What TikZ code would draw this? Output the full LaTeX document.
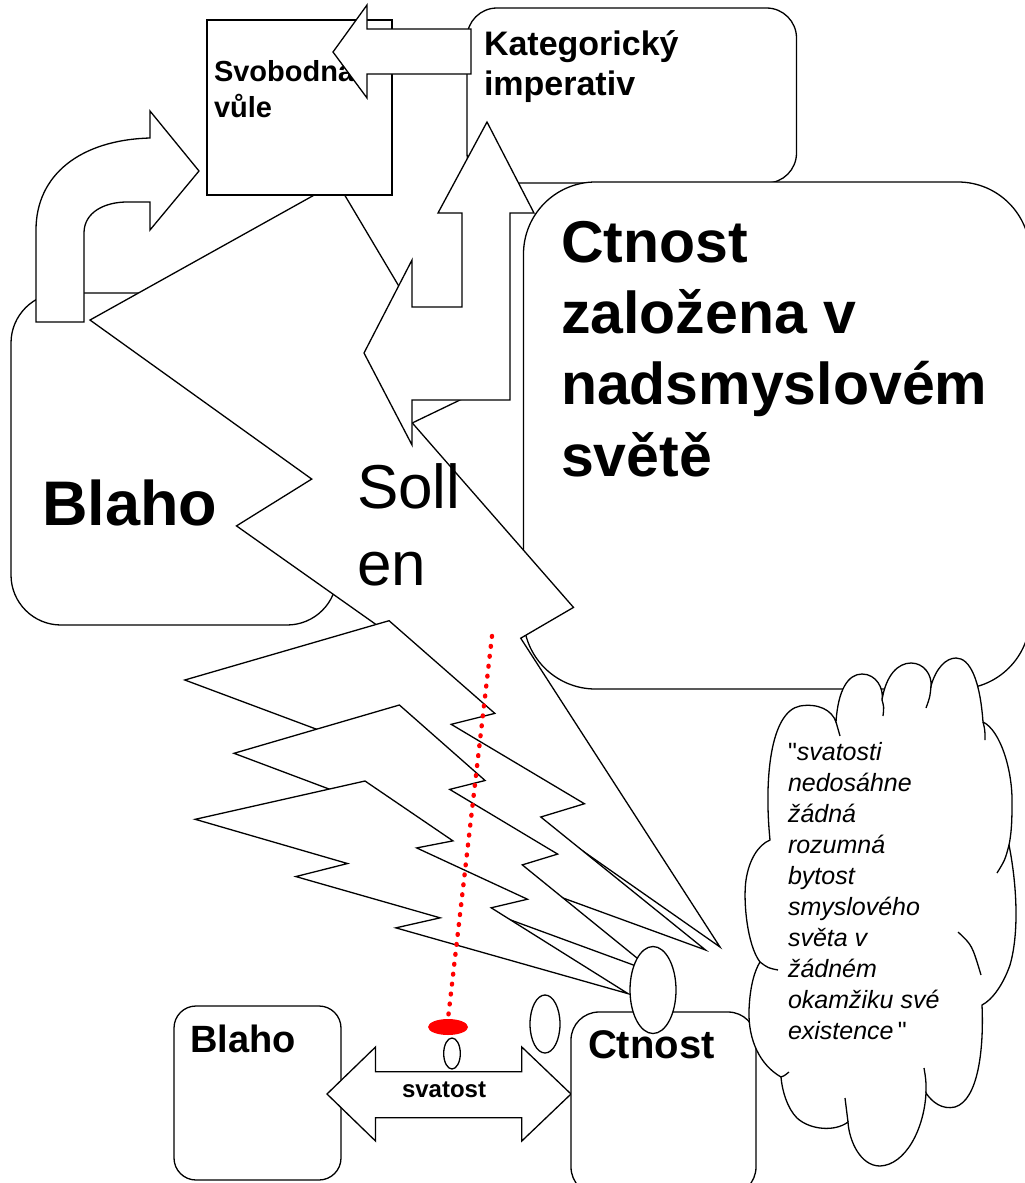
\documentclass[tikz,border=0pt]{standalone}
\usepackage{fontspec}
\setmainfont{Liberation Sans}
\usetikzlibrary{shapes.geometric}
\newcommand\boltpath{(84.72,0) -- (0,38.90) -- (76.02,83.82) -- (50.22,97.05) -- (122.22,138.97) -- (100.12,149.15) -- (216,216) -- (147.67,128.77) -- (165.77,120.07) -- (110.5,67.97) -- (128.6,60.8) -- cycle}
\font\rawq="Liberation Sans" at 25pt
\newcommand\sq{{\rawq\char34}}
\begin{document}
\begin{tikzpicture}[x=1pt,y=-1pt,
  shp/.style={draw=black, fill=white, line width=1.3pt},
  hook/.style={draw=black, line width=1.3pt},
  lbl/.style={anchor=base west, inner sep=0pt, outer sep=0pt, text=black},
  bub/.style={ellipse, draw=black, fill=white, line width=1.3pt, inner sep=0pt},
  bigb/.style={font=\bfseries\fontsize{59}{71}\selectfont},
  cloudtxt/.style={font=\itshape\fontsize{25}{31}\selectfont}
 ]
\useasboundingbox[fill=white] (0,0) rectangle (1025,1183);

% Kategoricky imperativ box
\draw[shp, rounded corners=30pt] (467,8) rectangle (796.5,183);
\node[lbl, font=\bfseries\fontsize{34}{40}\selectfont] (kat1) at (484,55) {Kategorický};
\node[lbl, font=\bfseries\fontsize{34}{40}\selectfont] (kat2) at (484,95) {imperativ};

% big Ctnost box
\draw[shp, rounded corners=72pt] (523.5,182) rectangle (1030,689);
\node[lbl, bigb] (ct1) at (561,262) {Ctnost};
\node[lbl, bigb] (ct2) at (561,333) {založena v};
\node[lbl, bigb] (ct3) at (561,404) {nadsmyslovém};
\node[lbl, bigb] (ct4) at (561,476) {světě};

% big Blaho box
\draw[shp, rounded corners=50pt] (11,293) rectangle (337,625);
\node[lbl, font=\bfseries\fontsize{63}{75}\selectfont] (blaho) at (42,525) {Blaho};

% curved arrow
\draw[shp] (36,322) -- (36,230) .. controls (36,175) and (80,140) .. (150,138)
  -- (150,111) -- (199,171) -- (150,230) -- (150,202) -- (127,202)
  .. controls (105,202) and (84,212) .. (84,233) -- (84,322) -- cycle;

% big lightning bolt
\begin{scope}[shift={(90,182.3)}, xscale=2.9167, yscale=3.5404]
\draw[shp] \boltpath;
\end{scope}

% Svobodna vule box
\draw[shp] (207,20) rectangle (392,195);
\node[lbl, font=\bfseries\fontsize{29}{36}\selectfont] (svo1) at (214,81.5) {Svobodná};
\node[lbl, font=\bfseries\fontsize{29}{36}\selectfont] (svo2) at (214,117.5) {vůle};

% left arrow
\draw[shp] (333,52) -- (367,5) -- (367,29) -- (471,29) -- (471,74) -- (367,74) -- (367,98) -- cycle;

% left-up arrow
\draw[shp] (487,122) -- (534,213) -- (510,213) -- (510,400) -- (412,400) -- (412,445)
  -- (364,353) -- (412,260) -- (412,307) -- (462,307) -- (462,213) -- (438,213) -- cycle;

% Sollen
\node[lbl, font=\fontsize{62}{77}\selectfont] (soll1) at (357,508) {Soll};
\node[lbl, font=\fontsize{62}{77}\selectfont] (soll2) at (357,585) {en};

% lower bolts
\begin{scope}[shift={(184.8,620.7)}, xscale=2.4108, yscale=1.5244]
\draw[shp] \boltpath;
\end{scope}
\begin{scope}[shift={(234,705)}, xscale=1.9523, yscale=1.2416]
\draw[shp] \boltpath;
\end{scope}
\begin{scope}[shift={(195.2,781)}, xscale=2.0043, yscale=0.9846]
\draw[shp] \boltpath;
\end{scope}

% small Blaho box
\draw[shp, rounded corners=22pt] (174,1006) rectangle (341,1180);
\node[lbl, font=\bfseries\fontsize{38}{45}\selectfont] (blaho2) at (190,1052) {Blaho};

% double arrow
\draw[shp] (327,1094) -- (375.5,1047) -- (375.5,1071.7) -- (521.8,1071.7) -- (521.8,1047)
  -- (571,1094) -- (521.8,1141) -- (521.8,1117.7) -- (375.5,1117.7) -- (375.5,1141) -- cycle;
\node[lbl, font=\bfseries\fontsize{24}{29}\selectfont] (svat) at (402,1097) {svatost};

% small Ctnost box
\draw[shp, rounded corners=28pt] (571,1012) rectangle (756,1195);
\node[lbl, font=\bfseries\fontsize{40}{48}\selectfont] (ctn2) at (588,1058) {Ctnost};

% cloud
\draw[shp] (770,840)
 .. controls (764,780) and (770,712) .. (800,706)
 .. controls (818,703) and (832,710) .. (836,722)
 .. controls (838,690) and (848,674) .. (862,674)
 .. controls (876,674) and (884,688) .. (882,700)
 .. controls (886,675) and (898,663) .. (911,663)
 .. controls (924,663) and (932,675) .. (931,686)
 .. controls (936,668) and (946,658) .. (956,658)
 .. controls (970,658) and (980,680) .. (983,722)
 .. controls (1000,730) and (1013,770) .. (1012,805)
 .. controls (1012,825) and (1011,835) .. (1009,845)
 .. controls (1016,880) and (1020,930) .. (1010,965)
 .. controls (1003,985) and (992,1000) .. (982,1005)
 .. controls (984,1050) and (978,1100) .. (955,1107)
 .. controls (942,1110) and (932,1102) .. (926,1093)
 .. controls (924,1130) and (905,1165) .. (880,1166)
 .. controls (860,1166) and (849,1140) .. (848,1122)
 .. controls (835,1132) and (810,1130) .. (797,1118)
 .. controls (787,1108) and (782,1090) .. (781,1077)
 .. controls (760,1065) and (748,1040) .. (749,1010)
 .. controls (750,985) and (755,970) .. (760,962)
 .. controls (747,945) and (743,900) .. (746,880)
 .. controls (749,860) and (758,845) .. (770,840) -- cycle;
\draw[hook] (836,722) .. controls (838,729) .. (840,736);
\draw[hook] (882,700) .. controls (884,707) .. (883,716);
\draw[hook] (931,686) .. controls (930,697) .. (926,708);
\draw[hook] (983,722) .. controls (985,730) .. (985,740);
\draw[hook] (1009,845) .. controls (1005,860) .. (997,873);
\draw[hook] (958,932) .. controls (972,945) .. (981,975);
\draw[hook] (926,1093) .. controls (926,1080) .. (924,1068);
\draw[hook] (848,1122) .. controls (846,1110) .. (845,1098);
\draw[hook] (781,1077) .. controls (784,1076) .. (789,1072);
\draw[hook] (760,962) .. controls (768,968) .. (778,970);
\node[lbl, font=\fontsize{25}{31}\selectfont] (q1) at (788,760) {\sq\itshape svatosti};
\node[lbl, cloudtxt] (q2) at (788,791) {nedosáhne};
\node[lbl, cloudtxt] (q3) at (788,822) {žádná};
\node[lbl, cloudtxt] (q4) at (788,853) {rozumná};
\node[lbl, cloudtxt] (q5) at (788,884) {bytost};
\node[lbl, cloudtxt] (q6) at (788,915) {smyslového};
\node[lbl, cloudtxt] (q7) at (788,946) {světa v};
\node[lbl, cloudtxt] (q8) at (788,977) {žádném};
\node[lbl, cloudtxt] (q9) at (788,1008) {okamžiku své};
\node[lbl, font=\fontsize{25}{31}\selectfont] (q10) at (788,1039) {{\itshape existence\/}\,\sq};

% callout bubbles
\node[bub, minimum width=46pt, minimum height=87pt] (bigbub) at (653,990) {};
\node[bub, minimum width=30pt, minimum height=58pt] (midbub) at (545,1024) {};
\node[bub, minimum width=16.6pt, minimum height=31pt] (smallbub) at (452,1053.5) {};

% red dotted line and red ellipse
\node[ellipse, fill=red, inner sep=0pt, minimum width=40pt, minimum height=16pt] (redeye) at (448,1027) {};
\coordinate (dtop) at (492,636);
\draw[red, line width=4.4pt, line cap=round, dash pattern=on 0.8pt off 9.2pt] (dtop) -- (redeye.north);
\end{tikzpicture}
\end{document}
